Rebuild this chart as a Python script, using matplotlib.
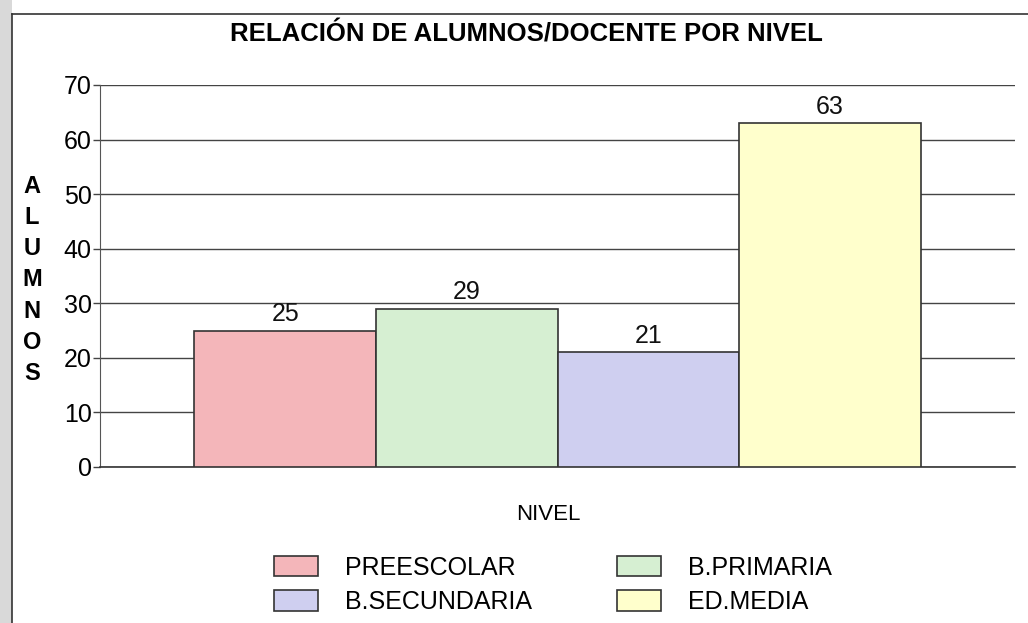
import matplotlib
matplotlib.use("Agg")
import matplotlib.pyplot as plt
from matplotlib.lines import Line2D
from matplotlib.patches import Rectangle

# datos
niveles = ["PREESCOLAR", "B.PRIMARIA", "B.SECUNDARIA", "ED.MEDIA"]
relacion = [25, 29, 21, 63]
colores = ["#f4b6ba", "#d6efd2", "#cfcff0", "#ffffcc"]
y_ticks = [0, 10, 20, 30, 40, 50, 60, 70]

plt.rcParams['font.family'] = ['Liberation Sans', 'DejaVu Sans']

fig = plt.figure(figsize=(10.28, 6.23), dpi=100)
fig.patch.set_facecolor('white')

# marco de la página escaneada
fig.add_artist(Rectangle((0, 0), 12 / 1028, 1, transform=fig.transFigure,
                         facecolor='#d9d9d9', edgecolor='none'))
fig.add_artist(Line2D([12 / 1028, 1], [1 - 14 / 623, 1 - 14 / 623],
                      transform=fig.transFigure, color='#333333', lw=1.2))
fig.add_artist(Line2D([12 / 1028, 12 / 1028], [0, 1 - 14 / 623],
                      transform=fig.transFigure, color='#333333', lw=1.2))

ax = fig.add_axes([100 / 1028, 1 - 467 / 623, 915 / 1028, 382 / 623])

x = list(range(len(niveles)))
bars = ax.bar(x, relacion, width=1.0, color=colores, edgecolor='#333333',
              linewidth=1.2, zorder=3)

for xi, v in zip(x, relacion):
    ax.text(xi, v + 0.8, str(v), ha='center', va='bottom', fontsize=18,
            color='#111111', zorder=4)

ax.set_xlim(-1.02, 4.02)
ax.set_ylim(0, 70)
ax.set_yticks(y_ticks)
ax.set_yticklabels([str(t) for t in y_ticks], fontsize=18)
ax.tick_params(axis='y', length=5, width=1, color='#444444', pad=1)
ax.set_xticks([])
ax.yaxis.grid(True, color='#444444', linewidth=1.0, zorder=0)
ax.set_axisbelow(True)
for s in ['top', 'right']:
    ax.spines[s].set_visible(False)
ax.spines['left'].set_color('#555555')
ax.spines['bottom'].set_color('#333333')
ax.spines['bottom'].set_linewidth(1.2)

fig.text(526 / 1028, 1 - 35 / 623, "RELACIÓN DE ALUMNOS/DOCENTE POR NIVEL",
         ha='center', va='center', fontsize=18.5, fontweight='bold',
         family=['Liberation Sans Narrow', 'Liberation Sans', 'DejaVu Sans'])
fig.text(32 / 1028, 1 - 280 / 623, "\n".join("ALUMNOS"), ha='center',
         va='center', fontsize=17, fontweight='bold', linespacing=1.45)
fig.text(548 / 1028, 1 - 515 / 623, "NIVEL", ha='center', va='center',
         fontsize=16)

# orden por filas como en el original
orden = [0, 2, 1, 3]
fig.legend(handles=[bars[i] for i in orden],
           labels=[niveles[i] for i in orden], ncol=2, loc='center',
           bbox_to_anchor=(553 / 1028, 1 - 585 / 623), frameon=False,
           fontsize=18, handlelength=1.75, handleheight=0.88,
           handletextpad=1.1, columnspacing=3.4, labelspacing=0.42)

fig.savefig("out.png", dpi=100, facecolor='white')
